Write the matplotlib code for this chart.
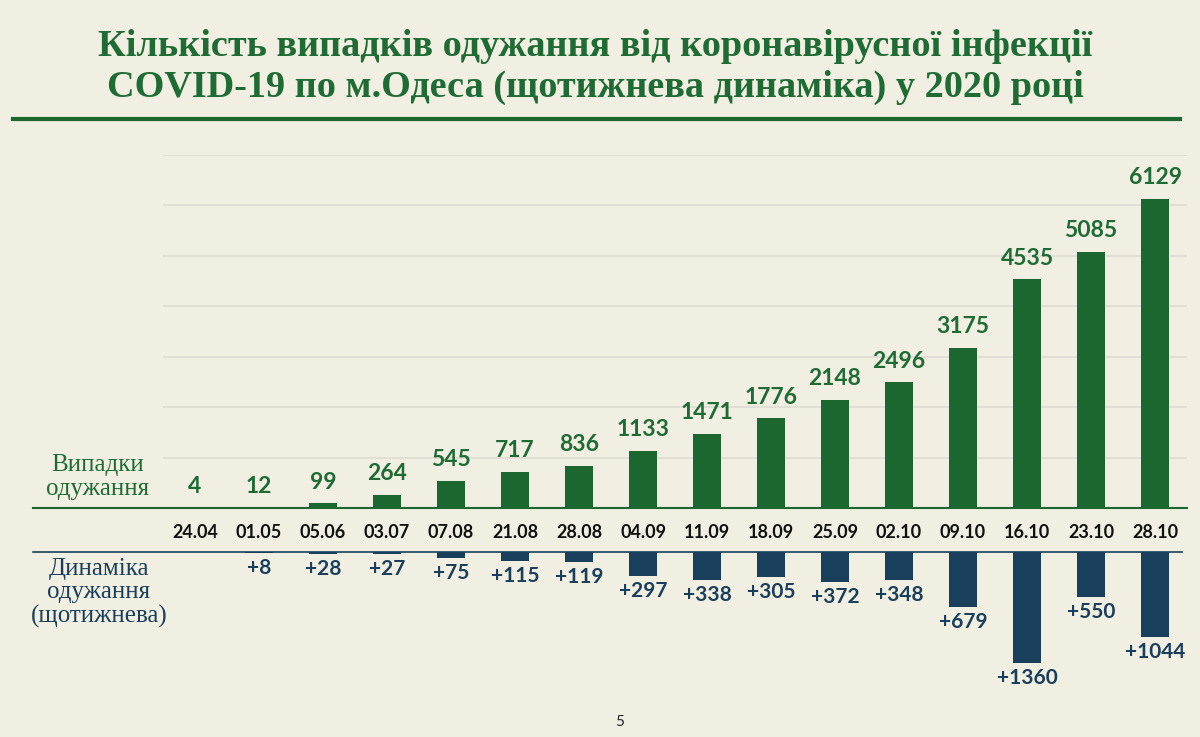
import matplotlib
matplotlib.use("Agg")
import matplotlib.pyplot as plt
from matplotlib.lines import Line2D

dates = ["24.04", "01.05", "05.06", "03.07", "07.08", "21.08", "28.08", "04.09",
         "11.09", "18.09", "25.09", "02.10", "09.10", "16.10", "23.10", "28.10"]
recovered = [4, 12, 99, 264, 545, 717, 836, 1133, 1471, 1776, 2148, 2496, 3175, 4535, 5085, 6129]
weekly = [None, 8, 28, 27, 75, 115, 119, 297, 338, 305, 372, 348, 679, 1360, 550, 1044]

title = ("Кількість випадків одужання від коронавірусної інфекції\n"
         "COVID-19 по м.Одеса (щотижнева динаміка) у 2020 році")

BG = "#f0efe1"
GREEN = "#1c6630"
TGREEN = "#1e6b34"
BLUE = "#1a3f5c"
W, H = 1200, 737
NUM = ["Lato", "DejaVu Sans"]
SERIF = ["Liberation Serif", "DejaVu Serif"]

fig = plt.figure(figsize=(W / 100, H / 100), dpi=100, facecolor=BG)

def fx(px):
    return px / W

def fy(py):
    return 1 - py / H

# title
fig.text(fx(595), fy(67), title, ha="center", va="center", fontsize=27.5,
         fontweight="bold", color=TGREEN, family=SERIF, linespacing=1.2)
fig.add_artist(Line2D([fx(13), fx(1180)], [fy(119), fy(119)], color=GREEN, lw=3))

x = list(range(len(dates)))

# top chart
ax1 = fig.add_axes([fx(163), fy(508), fx(1187) - fx(163), fy(155) - fy(508)])
ax1.set_facecolor("none")
ax1.set_xlim(-0.5, 15.5)
ax1.set_ylim(0, 7000)
for g in range(1000, 8000, 1000):
    ax1.axhline(g, color="#dddcd3", lw=1.2, zorder=0)
ax1.bar(x, recovered, width=0.43, color=GREEN, zorder=2)
for xi, v in zip(x, recovered):
    ax1.annotate(str(v), (xi, v), xytext=(0, 21), textcoords="offset pixels",
                 ha="center", va="center", fontsize=16.5, fontweight="bold",
                 color=TGREEN, family=NUM)
ax1.axis("off")
fig.add_artist(Line2D([fx(33), fx(1187)], [fy(508), fy(508)], color=GREEN, lw=1.5))

# date labels
for xi, d in zip(x, dates):
    px = 163 + (xi + 0.5) * (1187 - 163) / 16
    fig.text(fx(px), fy(532), d, ha="center", va="center", fontsize=13,
             fontweight="bold", color="#111111", family=NUM)

# bottom chart
ax2 = fig.add_axes([fx(163), 0, fx(1187) - fx(163), fy(552)])
ax2.set_facecolor("none")
ax2.set_xlim(-0.5, 15.5)
ax2.set_ylim(-185 / 0.0815, 0)
wx = [xi for xi, v in zip(x, weekly) if v is not None]
wv = [v for v in weekly if v is not None]
ax2.bar(wx, [-v for v in wv], width=0.43, color=BLUE, zorder=2)
for xi, v in zip(wx, wv):
    ax2.annotate("+" + str(v), (xi, -v), xytext=(0, -15), textcoords="offset pixels",
                 ha="center", va="center", fontsize=15, fontweight="bold",
                 color=BLUE, family=NUM)
ax2.axis("off")
fig.add_artist(Line2D([fx(33), fx(1182)], [fy(552), fy(552)], color=BLUE, lw=1.2))

# left labels
fig.text(fx(98), fy(477), "Випадки\nодужання", ha="center", va="center",
         fontsize=18, color=TGREEN, family=SERIF, linespacing=1.15)
fig.text(fx(99), fy(593), "Динаміка\nодужання\n(щотижнева)", ha="center", va="center",
         fontsize=18, color=BLUE, family=SERIF, linespacing=1.1)

# page number
fig.text(fx(620), fy(722), "5", ha="center", va="center", fontsize=11,
         color="#222222", family=NUM)

fig.savefig("out.png", dpi=100, facecolor=BG)
